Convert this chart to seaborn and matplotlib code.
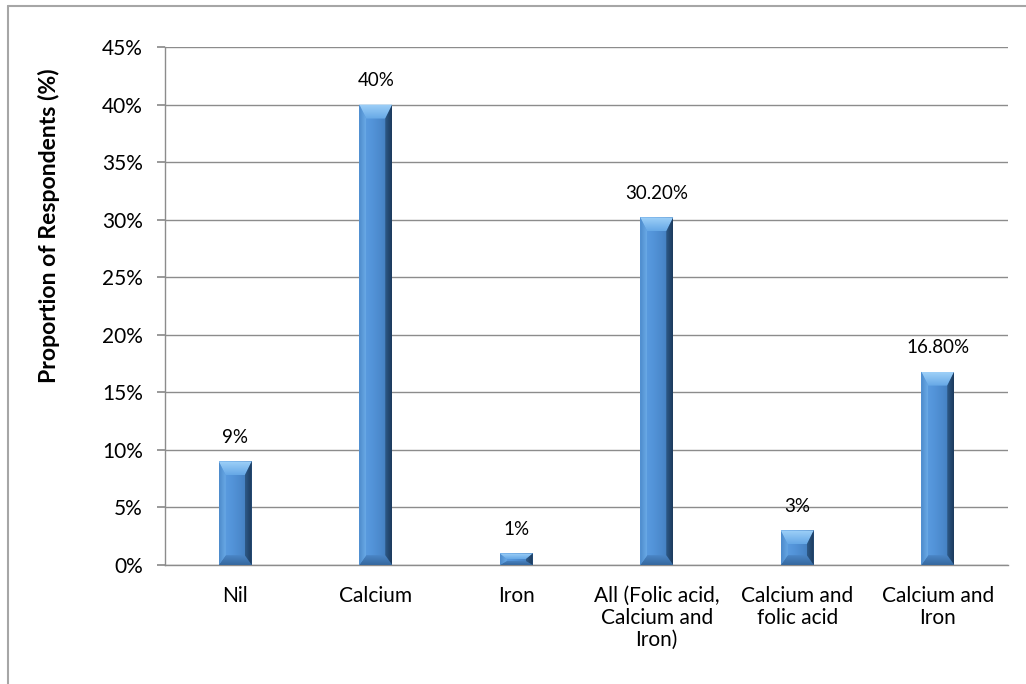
import matplotlib
matplotlib.use("Agg")
import matplotlib.pyplot as plt
from matplotlib.patches import Polygon
from matplotlib.lines import Line2D
from matplotlib.colors import LinearSegmentedColormap
from matplotlib.ticker import MultipleLocator, FuncFormatter
import numpy as np
import seaborn as sns
import pandas as pd

categories = ["Nil", "Calcium", "Iron", "All (Folic acid,\nCalcium and\nIron)",
              "Calcium and\nfolic acid", "Calcium and\nIron"]
values = [9, 40, 1, 30.2, 3, 16.8]
value_labels = ["9%", "40%", "1%", "30.20%", "3%", "16.80%"]

sns.set_theme(style="white")
plt.rcParams["font.family"] = ["Lato", "DejaVu Sans"]

df = pd.DataFrame({"category": categories, "value": values})

W, H = 1026, 684
fig = plt.figure(figsize=(W / 100, H / 100), dpi=100)
ax_rect = [165 / W, 1 - 565 / H, 843 / W, 518 / H]
ax = fig.add_axes(ax_rect)

sns.barplot(data=df, x="category", y="value", color="#4F90D5", width=0.235,
            saturation=1, ax=ax, zorder=3)

ax.set_ylim(0, 45)
ax.set_xlim(-0.5, len(categories) - 0.5)
ax.yaxis.set_major_locator(MultipleLocator(5))
ax.yaxis.set_major_formatter(FuncFormatter(lambda v, p: f"{int(round(v))}%"))
ax.grid(axis="y", color="#8C8C8C", linewidth=1.0, zorder=0)
ax.set_axisbelow(True)
for s in ["top", "right"]:
    ax.spines[s].set_visible(False)
for s in ["left", "bottom"]:
    ax.spines[s].set_color("#8C8C8C")
    ax.spines[s].set_linewidth(1.0)
ax.tick_params(axis="y", which="major", left=True, length=6, color="#8C8C8C",
               labelsize=15, pad=10, labelcolor="black")
ax.tick_params(axis="x", bottom=False, labelsize=15, pad=9, labelcolor="black")
ax.set_xlabel("")
ax.set_ylabel("")
for lbl in ax.get_xticklabels():
    lbl.set_linespacing(1.12)

fig.text(49 / W, 1 - 226 / H, "Proportion of Respondents (%)", rotation=90,
         ha="center", va="center", fontsize=16.6, fontweight="bold", color="black")


def gradient_poly(pts, colors, vertical, z=4):
    """Fill a polygon with a linear colour ramp."""
    cmap = LinearSegmentedColormap.from_list("ramp", colors)
    xs = [p[0] for p in pts]
    ys = [p[1] for p in pts]
    if vertical:
        grad = np.linspace(0, 1, 64).reshape(-1, 1)  # bottom -> top
    else:
        grad = np.linspace(0, 1, 64).reshape(1, -1)  # left -> right
    im = ax.imshow(grad, cmap=cmap, aspect="auto", origin="lower",
                   extent=[min(xs), max(xs), min(ys), max(ys)],
                   interpolation="bilinear", zorder=z)
    clip = Polygon(pts, closed=True, facecolor="none", edgecolor="none",
                   transform=ax.transData)
    ax.add_patch(clip)
    im.set_clip_path(clip)


# pixel -> data conversions for the bevel size
px_x = (len(categories)) / 843
px_y = 45 / 518

for bar, lab in zip(ax.patches[:len(values)], value_labels):
    x0 = bar.get_x()
    w = bar.get_width()
    h = bar.get_height()
    x1 = x0 + w
    bx = min(7 * px_x, w / 2)
    by = min(14 * px_y, h / 2)
    bar.set_alpha(0)
    # body: light on the left, darker toward the right edge
    gradient_poly([(x0, 0), (x1, 0), (x1, h), (x0, h)],
                  ["#5FA0E2", "#5596DB", "#4A88CB", "#3C72AE"], vertical=False)
    # top bevel (light)
    gradient_poly([(x0, h), (x1, h), (x1 - bx, h - by), (x0 + bx, h - by)],
                  ["#66A8E6", "#9ED0F8"], vertical=True, z=5)
    # bottom bevel (shadowed)
    gradient_poly([(x0, 0), (x1, 0), (x1 - bx, by * 0.7), (x0 + bx, by * 0.7)],
                  ["#36689F", "#4A86C6"], vertical=True, z=5)
    # left bevel
    gradient_poly([(x0, 0), (x0 + bx, by * 0.7), (x0 + bx, h - by), (x0, h)],
                  ["#4C8ACB", "#6AAAE6"], vertical=False, z=5)
    # right bevel (dark)
    gradient_poly([(x1 - bx, by * 0.7), (x1, 0), (x1, h), (x1 - bx, h - by)],
                  ["#2E5A88", "#1C3A5C"], vertical=False, z=5)
    ax.annotate(lab, (x0 + w / 2, h), xytext=(0, 11), textcoords="offset points",
                ha="center", va="bottom", fontsize=13.5, color="black")

ax.set_ylim(0, 45)
ax.set_xlim(-0.5, len(categories) - 0.5)

# chart area frame
fig.add_artist(Line2D([8 / W, 1.0], [1 - 6 / H, 1 - 6 / H],
                      color="#A6A6A6", linewidth=1.5, transform=fig.transFigure))
fig.add_artist(Line2D([8 / W, 8 / W], [0, 1 - 6 / H],
                      color="#A6A6A6", linewidth=1.5, transform=fig.transFigure))

fig.savefig("out.png", dpi=100, facecolor="white")
